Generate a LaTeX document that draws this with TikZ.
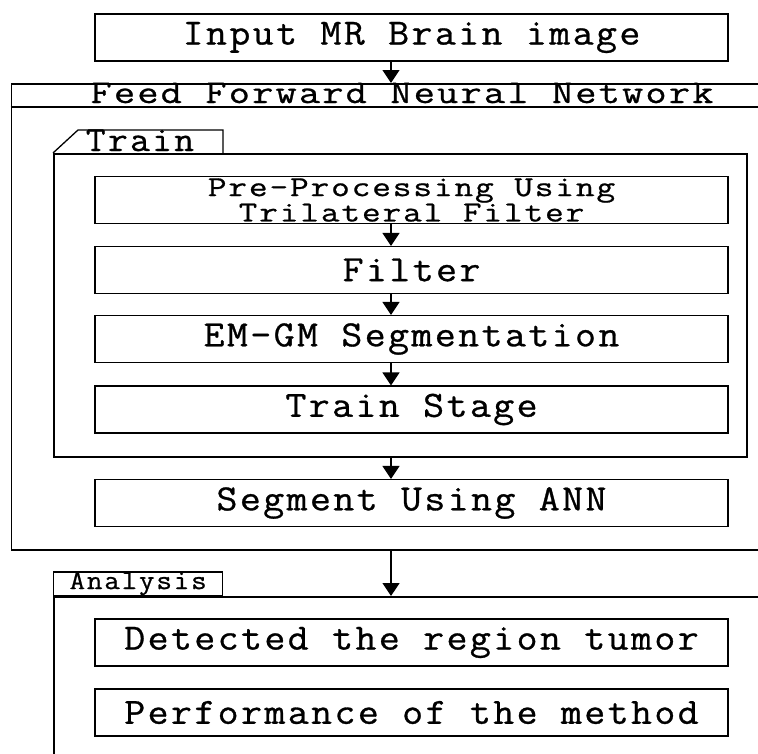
\documentclass[tikz,border=0pt]{standalone}
\usepackage{fontspec}
\newfontfamily\boxfont{Latin Modern Mono}[FakeStretch=1.1, LetterSpace=6.5, FakeBold=0.8]
\newfontfamily\widefont{Latin Modern Mono}[FakeStretch=1.25, LetterSpace=6.5, FakeBold=0.8]
\usetikzlibrary{arrows.meta}

\begin{document}
\begin{tikzpicture}[x=1pt, y=-1pt,
  box/.style={draw, line width=1.1pt, minimum width=633pt, minimum height=47pt,
    inner sep=0pt, font=\boxfont\fontsize{37}{37}\selectfont},
  frame/.style={draw, line width=1.6pt, inner sep=0pt, anchor=north west},
  label/.style={inner sep=0pt, font=\boxfont\fontsize{37}{37}\selectfont},
  arr/.style={line width=1.3pt, -{Triangle[length=13pt,width=17pt]}}]
  \useasboundingbox (0,0) rectangle (758,753);
  \coordinate (axis) at (391,0);
  % input
  \node[box] (input) at (411.5,37.5) {Input MR Brain image};
  % network frame with its header
  \node[frame, minimum width=760pt, minimum height=466pt] (net) at (10.5,83) {};
  \draw[line width=1.6pt] (net.north west) ++(0,-24pt) -- ++(760pt,0);
  \node[label, anchor=base, font=\widefont\fontsize{33}{33}\selectfont] (nethead) at (402,103)
    {Feed Forward Neural Network};
  % train frame and slanted tab
  \node[frame, minimum width=693pt, minimum height=303pt] (train) at (53,153) {};
  \draw[line width=1.3pt] (train.north west) -- ++(25pt,23pt) -- ++(145pt,0) -- ++(0,-23pt);
  \node[label, anchor=base, font=\boxfont\fontsize{35}{35}\selectfont] (traintab) at (140,151)
    {Train};
  % train stages
  \node[box, align=center, font=\widefont\fontsize{29}{23}\selectfont] (pre) at (411.5,200)
    {Pre-Processing Using\\Trilateral Filter};
  \node[box] (filter) at (411.5,270) {Filter};
  \node[box] (emgm) at (411.5,339) {EM-GM Segmentation};
  \node[box] (stage) at (411.5,409.5) {Train Stage};
  \foreach \a/\b in {pre/filter, filter/emgm, emgm/stage}
    \draw[arr] (\a.south -| axis) -- (\b.north -| axis);
  % segmentation
  \node[box] (segment) at (411.5,503) {Segment Using ANN};
  % analysis frame
  \node[frame, minimum width=720pt, minimum height=200pt] (analysis) at (53,596) {};
  \node[draw, line width=1.3pt, anchor=south west, minimum width=169pt, minimum height=23pt,
    inner sep=0pt, font=\boxfont\fontsize{27.5}{27.5}\selectfont] (anatab) at (53,596) {Analysis};
  \node[box] (detected) at (411.5,642.5) {Detected the region tumor};
  \node[box] (perf) at (411.5,712.5) {Performance of the method};
  % flow
  \draw[arr] (input.south -| axis) -- (net.north -| axis);
  \draw[arr] (train.south -| axis) -- (segment.north -| axis);
  \draw[arr] (net.south -| axis) -- (analysis.north -| axis);
\end{tikzpicture}
\end{document}
